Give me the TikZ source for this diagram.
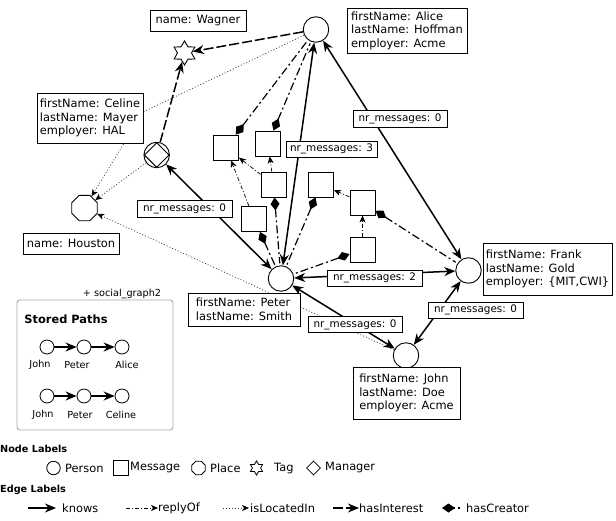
\documentclass[tikz,border=0pt]{standalone}
\usepackage{fontspec}
\setmainfont{DejaVu Sans}
\usetikzlibrary{arrows.meta,shapes.geometric,backgrounds}
\tikzset{
  x=1pt,y=-1pt,
  every node/.style={font=\fontsize{11.4}{13.6}\selectfont,inner sep=0pt},
  person/.style={circle,draw,fill=white,line width=0.9pt,minimum size=25.5pt},
  msg/.style={rectangle,draw,fill=white,line width=0.9pt,minimum size=25pt},
  place/.style={regular polygon,regular polygon sides=8,draw,fill=white,line width=0.9pt,minimum size=27.5pt},
  tagn/.style={star,star points=6,star point ratio=1.7,draw,fill=white,line width=0.9pt,minimum size=24pt},
  mgr/.style={diamond,draw,fill=white,line width=0.9pt,minimum size=25pt},
  info/.style={rectangle,draw,fill=white,line width=0.9pt,align=left},
  cnt/.style={rectangle,draw,fill=white,line width=0.9pt,font=\fontsize{10.4}{12}\selectfont},
  small/.style={font=\fontsize{9.7}{12}\selectfont},
  head/.style={font=\fontsize{9.7}{12}\selectfont\bfseries},
  tipk/.tip={Stealth[length=11pt,width=9pt,inset=3.5pt]},
  tips/.tip={Stealth[length=7pt,width=6pt,inset=2pt]},
  knows/.style={line width=1.5pt,{tipk}-{tipk}},
  knowsone/.style={line width=1.5pt,-{tipk}},
  replyof/.style={line width=0.7pt,dash pattern=on 4pt off 2pt on 1pt off 2pt,-{tips}},
  located/.style={line width=0.7pt,dash pattern=on 1pt off 2pt,draw=black!80,-{tips[black]}},
  interest/.style={line width=1.5pt,dash pattern=on 10pt off 3pt,-{tipk}},
  creator/.style={line width=1.2pt,dash pattern=on 8pt off 3pt on 2pt off 3pt,{Diamond[length=13pt,width=9pt]}-,shorten >=2pt},
}
\begin{document}
\begin{tikzpicture}
\useasboundingbox (0,0) rectangle (616,520);
% graph nodes
\node[person] (alice) at (316,29.5) {};
\node[person] (frank) at (468.5,270.5) {};
\node[person] (john) at (406,355.5) {};
\node[person] (peter) at (281,278.5) {};
\node[person] (celine) at (156.7,155) {};
\node[mgr] (celinem) at (156.7,155) {};
\node[tagn] (wagner) at (184.5,53) {};
\node[place] (houston) at (84.5,208) {};
\node[msg] (m1) at (226,147.5) {};
\node[msg] (m2) at (268,143.5) {};
\node[msg] (m3) at (273.5,184.5) {};
\node[msg] (m4) at (254,219) {};
\node[msg] (m5) at (321,184.5) {};
\node[msg] (m6) at (362.5,202.5) {};
\node[msg] (m7) at (362.5,249.5) {};
\coordinate (via) at (143,112);
% property boxes
\node[info,minimum width=96pt,minimum height=21pt] (bwagner) at (198,20.5) {name: Wagner};
\node[info,minimum width=120pt,minimum height=45pt] (balice) at (407,30.5) {firstName: Alice\\lastName: Hoffman\\employer: Acme};
\node[info,minimum width=106pt,minimum height=50pt] (bceline) at (90,118) {firstName: Celine\\lastName: Mayer\\employer: HAL};
\node[info,minimum width=96pt,minimum height=21pt] (bhouston) at (71,243.5) {name: Houston};
\node[info,minimum width=112pt,minimum height=33pt] (bpeter) at (244,309.5) {firstName: Peter\\lastName: Smith};
\node[info,minimum width=129pt,minimum height=52pt] (bfrank) at (547.5,269) {firstName: Frank\\lastName: Gold\\employer: \{MIT,CWI\}};
\node[info,minimum width=107pt,minimum height=52pt] (bjohn) at (406.5,393) {firstName: John\\lastName: Doe\\employer: Acme};
% count labels
\node[cnt,minimum width=94pt,minimum height=17pt] (n1) at (400,118.5) {nr\_messages: 0};
\node[cnt,minimum width=91pt,minimum height=16pt] (n2) at (331.5,149) {nr\_messages: 3};
\node[cnt,minimum width=95pt,minimum height=17pt] (n3) at (184.5,208.5) {nr\_messages: 0};
\node[cnt,minimum width=95pt,minimum height=16pt] (n4) at (374.5,278) {nr\_messages: 2};
\node[cnt,minimum width=94pt,minimum height=16pt] (n5) at (355,324.5) {nr\_messages: 0};
\node[cnt,minimum width=95pt,minimum height=16pt] (n6) at (475.5,310) {nr\_messages: 0};
% stored paths panel
\node[rectangle,rounded corners=3pt,draw=black!35,line width=0.9pt,minimum width=156pt,minimum height=130pt] (panel) at (95,365) {};
\node[small] (panelcap) at (122,294) {+ social\_graph2};
\node[font=\fontsize{11.4}{13}\selectfont\bfseries] (paneltitle) at (66,319) {Stored Paths};
\foreach \n/\x in {a/47,b/84,c/122}{
  \node[circle,draw,fill=white,line width=0.8pt,minimum size=14pt] (r1\n) at (\x,347) {};
  \node[circle,draw,fill=white,line width=0.8pt,minimum size=14pt] (r2\n) at (\x,396) {};
}
\node[small] (l1a) at (40,365) {John};
\node[small] (l1b) at (77,365) {Peter};
\node[small] (l1c) at (127,365) {Alice};
\node[small] (l2a) at (43,415) {John};
\node[small] (l2b) at (80,415) {Peter};
\node[small] (l2c) at (121,415) {Celine};
% legend
\node[head,anchor=west] (hnode) at (0,449) {Node Labels};
\node[head,anchor=west] (hedge) at (0,490) {Edge Labels};
\node[circle,draw,line width=0.8pt,minimum size=13.5pt] (kperson) at (53.5,468) {};
\node[anchor=west] (tperson) at (65,468) {Person};
\node[msg,minimum size=14.5pt,line width=0.8pt] (kmsg) at (121,468) {};
\node[anchor=west] (tmsg) at (130,468) {Message};
\node[place,minimum size=14.5pt,line width=0.8pt] (kplace) at (198.5,468) {};
\node[anchor=west] (tplace) at (210,468) {Place};
\node[tagn,minimum size=14pt,line width=0.8pt] (ktag) at (256.5,468) {};
\node[anchor=west] (ttag) at (274,468.5) {Tag};
\node[mgr,minimum size=14pt,line width=0.8pt] (kmgr) at (313.5,468) {};
\node[anchor=west] (tmgr) at (325,468) {Manager};
\coordinate (k1a) at (28,508); \coordinate (k1b) at (56,508);
\node[anchor=west] (t1) at (62,508) {knows};
\coordinate (k2a) at (126,508); \coordinate (k2b) at (158,508);
\node[anchor=west] (t2) at (158,508) {replyOf};
\coordinate (k3a) at (223,508); \coordinate (k3b) at (249,508);
\node[anchor=west] (t3) at (250,508) {isLocatedIn};
\coordinate (k4a) at (333,508); \coordinate (k4b) at (359,508);
\node[anchor=west] (t4) at (359,508) {hasInterest};
\coordinate (k5a) at (442,508); \coordinate (k5b) at (460,508);
\node[anchor=west] (t5) at (466,508) {hasCreator};
% connectors
\begin{pgfonlayer}{background}
\draw[interest] (alice) -- (wagner);
\draw[interest] (celine) -- (wagner);
\draw[located] (alice) -- (via) -- (houston);
\draw[located] (celine) -- (houston);
\draw[located] (john) -- (houston);
\draw[knows] (peter) -- (celine);
\draw[knows] (peter) -- (alice);
\draw[knows] (alice) -- (frank);
\draw[knows] (peter) -- (frank);
\draw[knows] (frank) -- (john);
\draw[knows] (peter) -- (john);
\draw[replyof] (m4) -- (m1);
\draw[replyof] (m3) -- (m1);
\draw[replyof] (m3) -- (m2);
\draw[replyof] (m6) -- (m5);
\draw[replyof] (m7) -- (m6);
\draw[creator] (m1) -- (alice);
\draw[creator] (m2) -- (alice);
\draw[creator] (m3) -- (peter);
\draw[creator] (m4) -- (peter);
\draw[creator] (m5) -- (peter);
\draw[creator] (m7) -- (peter);
\draw[creator] (m6) -- (frank);
\end{pgfonlayer}
\draw[knowsone] (r1a) -- (r1b);
\draw[knowsone] (r1b) -- (r1c);
\draw[knowsone] (r2a) -- (r2b);
\draw[knowsone] (r2b) -- (r2c);
\draw[knowsone] (k1a) -- (k1b);
\draw[replyof] (k2a) -- (k2b);
\draw[located] (k3a) -- (k3b);
\draw[interest] (k4a) -- (k4b);
\draw[creator,dash pattern=on 1pt off 3.5pt on 1.5pt off 9pt,shorten >=0pt] (k5a) -- (k5b);
\end{tikzpicture}
\end{document}
